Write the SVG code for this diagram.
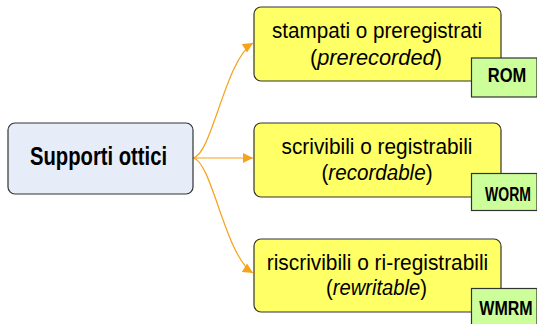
<svg xmlns="http://www.w3.org/2000/svg" width="537" height="324" viewBox="0 0 537 324">
<style>
.main{fill:#E6ECF8;stroke:#333;stroke-width:1.2}
.item{fill:#FFFF66;stroke:#333;stroke-width:1.2}
.tag{fill:#CCFF99;stroke:#333;stroke-width:1.2}
.t{font-family:"Liberation Sans",Arial,sans-serif;font-size:22.5px;fill:#000;text-anchor:middle}
.b{font-family:"Liberation Sans",Arial,sans-serif;font-weight:bold;fill:#000;text-anchor:middle}
.c{fill:none;stroke:#F7A21B;stroke-width:1.2}
</style>
<defs>
<marker id="ah" viewBox="0 0 10 10" refX="10" refY="5" markerWidth="12" markerHeight="10" markerUnits="userSpaceOnUse" orient="auto">
<path d="M0,0 L10,5 L0,10 z" fill="#F7A21B"/>
</marker>
</defs>
<g id="connectors">
<path class="c" d="M193,158 C212,155 225,60 253,43" marker-end="url(#ah)"/>
<path class="c" d="M193,158 L253,158" marker-end="url(#ah)"/>
<path class="c" d="M193,158 C212,161 225,256 253,273" marker-end="url(#ah)"/>
</g>
<g id="main">
<rect class="main" x="8" y="123" width="185" height="71" rx="7"/>
<text class="b" x="98.5" y="165" font-size="25" textLength="137" lengthAdjust="spacingAndGlyphs">Supporti ottici</text>
</g>
<g id="n1">
<rect class="item" x="254" y="7" width="247" height="74" rx="7"/>
<text class="t" x="377" y="38" textLength="210" lengthAdjust="spacingAndGlyphs">stampati o preregistrati</text>
<text class="t" x="376" y="64.5" textLength="132" lengthAdjust="spacingAndGlyphs">(<tspan font-style="italic">prerecorded</tspan>)</text>
</g>
<g id="tag1">
<rect class="tag" x="471.5" y="58" width="65.5" height="39"/>
<text class="b" font-size="20" transform="translate(507,82) scale(0.825,1)">ROM</text>
</g>
<g id="n2">
<rect class="item" x="254" y="123" width="247" height="74" rx="7"/>
<text class="t" x="377" y="154" textLength="191" lengthAdjust="spacingAndGlyphs">scrivibili o registrabili</text>
<text class="t" x="377" y="180" textLength="111" lengthAdjust="spacingAndGlyphs">(<tspan font-style="italic">recordable</tspan>)</text>
</g>
<g id="tag2">
<rect class="tag" x="471.5" y="173.5" width="65.5" height="37"/>
<text class="b" font-size="20" transform="translate(508,200.5) scale(0.70,1)">WORM</text>
</g>
<g id="n3">
<rect class="item" x="254" y="239" width="247" height="73" rx="7"/>
<text class="t" x="377.5" y="269.5" textLength="221.5" lengthAdjust="spacingAndGlyphs">riscrivibili o ri-registrabili</text>
<text class="t" x="376.5" y="295" textLength="101" lengthAdjust="spacingAndGlyphs">(<tspan font-style="italic">rewritable</tspan>)</text>
</g>
<g id="tag3">
<rect class="tag" x="471.5" y="288.5" width="65.5" height="40"/>
<text class="b" font-size="20" transform="translate(506,315) scale(0.80,1)">WMRM</text>
</g>
</svg>
